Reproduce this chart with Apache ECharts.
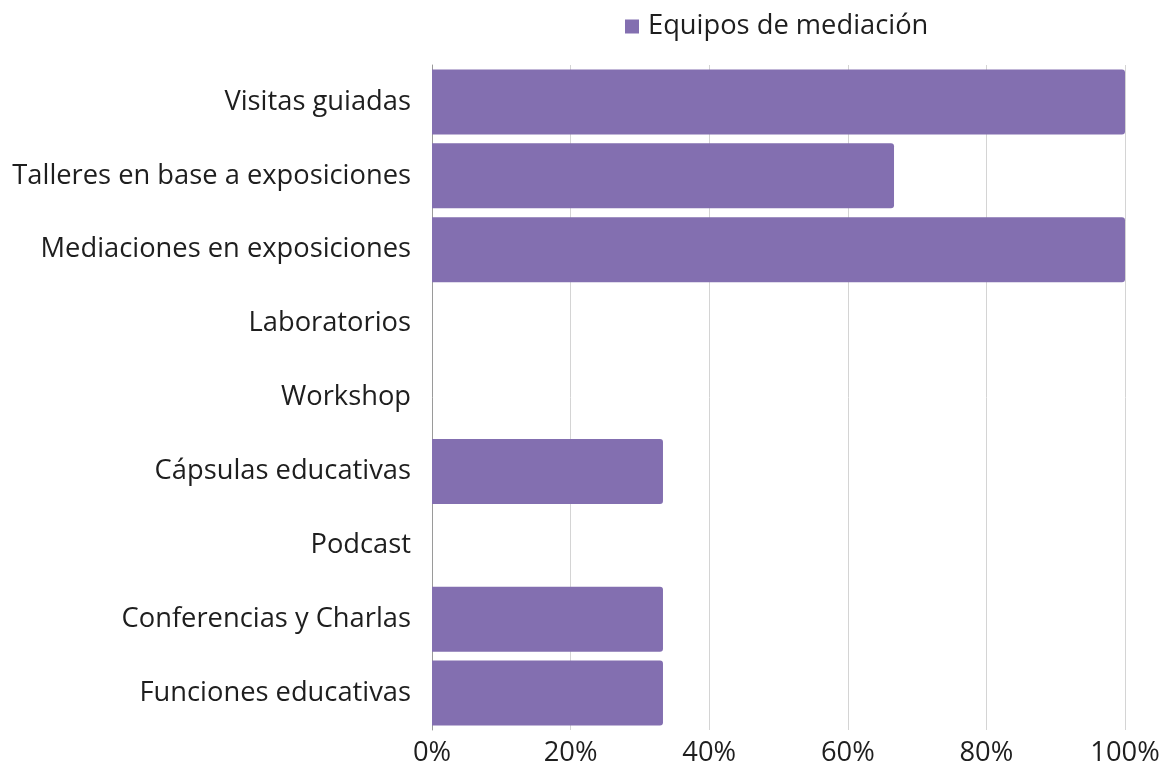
<!DOCTYPE html>
<html>
<head>
<meta charset="utf-8">
<script src="https://cdn.jsdelivr.net/npm/echarts@6/dist/echarts.min.js"></script>
<style>
  html, body { margin: 0; padding: 0; background: #fff; }
  #chart { width: 1166px; height: 767px; }
</style>
</head>
<body>
<div id="chart"></div>
<script>
// Activity types, top to bottom
const categories = [
  'Visitas guiadas',
  'Talleres en base a exposiciones',
  'Mediaciones en exposiciones',
  'Laboratorios',
  'Workshop',
  'Cápsulas educativas',
  'Podcast',
  'Conferencias y Charlas',
  'Funciones educativas'
];
// Share of mediation teams (%)
const seriesName = 'Equipos de mediación';
const values = [100, 66.67, 100, 0, 0, 33.33, 0, 33.33, 33.33];
const xTicks = [0, 20, 40, 60, 80, 100];

const font = '"Open Sans", "Noto Sans", sans-serif';
const fs = 27.3;
const chart = echarts.init(document.getElementById('chart'), null, { renderer: 'canvas' });
chart.setOption({
  animation: false,
  textStyle: { fontFamily: font },
  legend: {
    data: [seriesName],
    top: 8,
    left: 620,
    icon: 'rect',
    itemWidth: 14,
    itemHeight: 14,
    itemGap: 10,
    textStyle: { fontSize: fs, color: '#1e1e1e', fontFamily: font, padding: [0, 0, 0, 4] }
  },
  grid: { left: 432, right: 41, top: 65, bottom: 37, containLabel: false },
  xAxis: {
    type: 'value',
    min: xTicks[0],
    max: xTicks[xTicks.length - 1],
    interval: 20,
    axisLine: { show: false },
    axisTick: { show: false },
    splitLine: { show: true, lineStyle: { color: '#d4d4d4', width: 1 } },
    axisLabel: {
      formatter: v => v + '%',
      fontSize: fs,
      color: '#1e1e1e',
      margin: 10,
      fontFamily: font
    }
  },
  yAxis: {
    type: 'category',
    inverse: true,
    data: categories,
    axisLine: { show: true, lineStyle: { color: '#9a9a9a', width: 1 } },
    axisTick: { show: false },
    axisLabel: { fontSize: fs, color: '#1e1e1e', margin: 21, fontFamily: font }
  },
  series: [{
    name: seriesName,
    type: 'bar',
    data: values,
    barCategoryGap: '12%',
    itemStyle: { color: '#836FB0', borderRadius: [0, 3, 3, 0] }
  }]
});
</script>
</body>
</html>
